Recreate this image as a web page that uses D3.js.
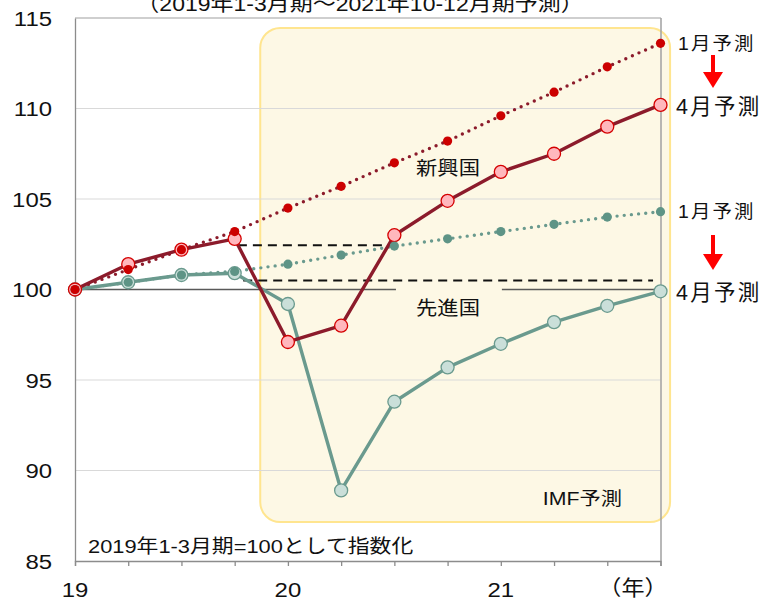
<!DOCTYPE html>
<html><head><meta charset="utf-8">
<script src="https://cdn.jsdelivr.net/npm/d3@7"></script>
<style>
body{margin:0;background:#fff;}
svg{display:block;}
text{font-family:"Liberation Sans","Noto Sans CJK JP",sans-serif;fill:#111;}
</style></head>
<body>
<svg id="c" width="763" height="602"></svg>
<script>
// quarters 2019Q1 .. 2021Q4
const quarters = d3.range(12);
const xTickLabels = [{q:0,t:"19"},{q:4,t:"20"},{q:8,t:"21"}];
const yTicks = [85,90,95,100,105,110,115];
const emergingApr = [100,101.4,102.2,102.8,97.1,98.0,103.0,104.9,106.5,107.5,109.0,110.2];
const emergingJan = [100,101.1,102.2,103.2,104.5,105.7,107.0,108.2,109.6,110.9,112.3,113.6];
const advancedApr = [100,100.4,100.8,100.9,99.2,88.9,93.8,95.7,97.0,98.2,99.1,99.9];
const advancedJan = [100,100.4,100.8,101.0,101.4,101.9,102.4,102.8,103.2,103.6,104.0,104.3];

const svg = d3.select("#c");
const x = d3.scaleLinear().domain([0,11]).range([75,660.5]);
const y = d3.scaleLinear().domain([85,115]).range([561,18]);

// text helper: (px, py) is anchor point at vertical centre, sx horizontal stretch
function label(px, py, txt, size, opt={}){
  const t = svg.append("text")
    .attr("transform",`translate(${px},${py}) scale(${opt.sx||1},1)`)
    .attr("dy","0.36em")
    .attr("font-size",size)
    .attr("text-anchor",opt.anchor||"start")
    .text(txt);
  if(opt.ls) t.attr("letter-spacing",opt.ls);
  if(opt.fill) t.attr("fill",opt.fill);
  return t;
}

// forecast box
svg.append("rect")
  .attr("x", x(3.48)).attr("y", y(114.45))
  .attr("width", x(11.18)-x(3.48)).attr("height", y(87.15)-y(114.45))
  .attr("rx",20).attr("ry",20)
  .attr("fill","#fdf8e5").attr("stroke","#ffe58f").attr("stroke-width",2);

// gridlines
svg.append("g").selectAll("line").data(yTicks.filter(v=>v!==85 && v!==100 && v!==115)).join("line")
  .attr("x1",x(0)).attr("x2",x(11)).attr("y1",d=>y(d)).attr("y2",d=>y(d))
  .attr("stroke","#d9d9d9").attr("stroke-width",1.2);

// frame
svg.append("line").attr("x1",x(0)).attr("x2",x(11)+0.5).attr("y1",y(115)).attr("y2",y(115)).attr("stroke","#a0a0a0").attr("stroke-width",1.2);
svg.append("line").attr("x1",x(11)+0.5).attr("x2",x(11)+0.5).attr("y1",y(115)).attr("y2",y(85)).attr("stroke","#a0a0a0").attr("stroke-width",1.5);

// y axis
const yAxis = svg.append("g").attr("transform",`translate(${x(0)},0)`)
  .call(d3.axisLeft(y).tickValues(yTicks).tickSize(0).tickFormat(""));
yAxis.select(".domain").attr("stroke","#8c8c8c").attr("stroke-width",1.3);
yTicks.forEach(v=>label(52, y(v), d3.format("d")(v), 21, {anchor:"end", sx:1.14}));

// x axis
const xAxis = svg.append("g").attr("transform",`translate(0,${y(85)})`)
  .call(d3.axisBottom(x).tickValues(quarters).tickSize(5).tickFormat(""));
xAxis.select(".domain").attr("stroke","#8c8c8c").attr("stroke-width",1.3);
xAxis.selectAll(".tick line").attr("stroke","#8c8c8c").attr("stroke-width",1.3);
xTickLabels.forEach(d=>label(x(d.q), 589, d.t, 21, {anchor:"middle", sx:1.14}));
label(633, 587, "（年）", 21, {anchor:"middle", sx:1.1});

// baseline 100 (split around label)
[[0,6.03],[8.02,11]].forEach(s=>{
  svg.append("line").attr("x1",x(s[0])).attr("x2",x(s[1])).attr("y1",y(100)).attr("y2",y(100))
    .attr("stroke","#595959").attr("stroke-width",1.6);
});

// dashed gap lines
[[3.06,5.92,102.45],[3.16,10.86,100.5]].forEach(s=>{
  svg.append("line").attr("x1",x(s[0])).attr("x2",x(s[1])).attr("y1",y(s[2])).attr("y2",y(s[2]))
    .attr("stroke","#111").attr("stroke-width",2).attr("stroke-dasharray","9,6");
});

const line = d3.line().x((d,i)=>x(i)).y(d=>y(d));
const advC = "#6a9a8e", emC = "#8c1b2b";

// dotted January forecast lines
[[advancedJan,advC],[emergingJan,emC]].forEach(([d,c])=>{
  svg.append("path").attr("d",line(d)).attr("fill","none").attr("stroke",c)
    .attr("stroke-width",3.4).attr("stroke-linecap","round").attr("stroke-dasharray","0,7.2");
});
// solid April lines
[[advancedApr,advC],[emergingApr,emC]].forEach(([d,c])=>{
  svg.append("path").attr("d",line(d)).attr("fill","none").attr("stroke",c)
    .attr("stroke-width",3.4).attr("stroke-linejoin","round");
});
// April markers
svg.append("g").selectAll("circle").data(advancedApr).join("circle")
  .attr("cx",(d,i)=>x(i)).attr("cy",d=>y(d)).attr("r",6.5)
  .attr("fill","#cadfd9").attr("stroke","#6a9a8e").attr("stroke-width",1.3);
svg.append("g").selectAll("circle").data(emergingApr).join("circle")
  .attr("cx",(d,i)=>x(i)).attr("cy",d=>y(d)).attr("r",6.5)
  .attr("fill","#ffb7bd").attr("stroke","#d40000").attr("stroke-width",1.3);
// January markers
svg.append("g").selectAll("circle").data(advancedJan).join("circle")
  .attr("cx",(d,i)=>x(i)).attr("cy",d=>y(d)).attr("r",4.6).attr("fill","#5e9486");
svg.append("g").selectAll("circle").data(emergingJan).join("circle")
  .attr("cx",(d,i)=>x(i)).attr("cy",d=>y(d)).attr("r",4.6).attr("fill","#cc0000");

// labels
label(360, 4, "（2019年1-3月期～2021年10-12月期予測）", 20, {anchor:"middle", sx:1.15});
label(448, 168, "新興国", 19, {anchor:"middle", sx:1.12});
label(448, 308, "先進国", 19, {anchor:"middle", sx:1.12});
label(622, 498, "IMF予測", 18.5, {anchor:"end", sx:1.15});
label(88, 546, "2019年1-3月期=100として指数化", 19, {sx:1.15});

function rightLabels(v1, v4, arrowTop, arrowBot){
  label(678, y(v1), "1月予測", 18.5, {ls:2, sx:1.05});
  label(676, y(v4)+1, "4月予測", 21.5, {ls:2.3});
  const ax = 713;
  svg.append("line").attr("x1",ax).attr("x2",ax).attr("y1",arrowTop).attr("y2",arrowBot-12)
    .attr("stroke","#ff0000").attr("stroke-width",4);
  svg.append("path").attr("d",`M${ax-10},${arrowBot-16}L${ax+10},${arrowBot-16}L${ax},${arrowBot}Z`).attr("fill","#ff0000");
}
rightLabels(emergingJan[11], emergingApr[11], 55, 88);
rightLabels(advancedJan[11], advancedApr[11], 235, 270);
</script>
</body></html>
